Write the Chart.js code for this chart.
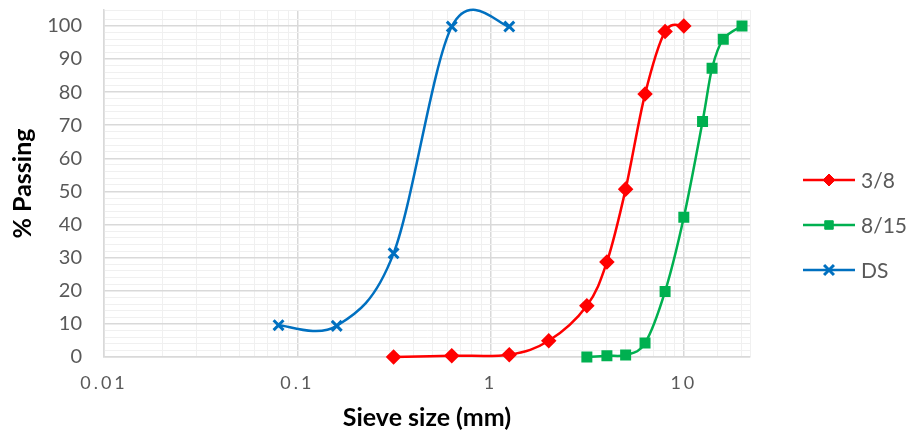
<!DOCTYPE html>
<html>
<head>
<meta charset="utf-8">
<script src="https://cdn.jsdelivr.net/npm/chart.js@4/dist/chart.umd.min.js"></script>
<style>
  html, body { margin: 0; padding: 0; background: #fff; }
  #wrap { width: 908px; height: 437px; }
</style>
</head>
<body>
<div id="wrap"><canvas id="grading"></canvas></div>
<script>
// sieve sizes (mm) and % passing
const sieve38 = [0.315, 0.63, 1.25, 2, 3.15, 4, 5, 6.3, 8, 10];
const pass38 = [0, 0.4, 0.7, 4.9, 15.5, 28.7, 50.7, 79.4, 98.3, 100];
const sieve815 = [3.15, 4, 5, 6.3, 8, 10, 12.5, 14, 16, 20];
const pass815 = [0, 0.4, 0.6, 4.2, 19.8, 42.2, 71.1, 87.2, 96, 100];
const sieveDS = [0.08, 0.16, 0.315, 0.63, 1.25];
const passDS = [9.6, 9.4, 31.3, 99.8, 99.8];
const xTickLabels = ["0.01", "0.1", "1", "10"];
const yTickLabels = [0, 10, 20, 30, 40, 50, 60, 70, 80, 90, 100];

const font = "Lato, 'Open Sans', sans-serif";

function pts(xs, ys) {
    return xs.map((x, i) => ({x: x, y: ys[i]}))
}

function isDecade(v) {
    return xTickLabels.some(l => Math.abs(parseFloat(l) - v) < 1e-9)
}

// Excel "smoothed line" is close to a Catmull-Rom spline on the pixel points,
// so replace chart.js' weighted control points with plain 1/6 ones
const excelSmooth = {
    id: "excelSmooth",
    beforeDatasetsDraw(chart) {
        chart.data.datasets.forEach((ds, i) => {
            const meta = chart.getDatasetMeta(i)
            const p = meta.data
            meta.dataset._pointsUpdated = true
            for (let k = 0; k < p.length; k++) {
                const a = p[Math.max(k - 1, 0)]
                const b = p[Math.min(k + 1, p.length - 1)]
                const dx = (b.x - a.x) / 6
                const dy = (b.y - a.y) / 6
                p[k].cp1x = p[k].x - dx
                p[k].cp1y = p[k].y - dy
                p[k].cp2x = p[k].x + dx
                p[k].cp2y = p[k].y + dy
            }
        })
    }
}

// legend drawn on the right, Excel style (line + marker + text)
const sideLegend = {
    id: "sideLegend",
    afterDraw(chart) {
        const ctx = chart.ctx
        const rows = [180, 225, 270]
        chart.data.datasets.forEach((ds, i) => {
            const y = rows[i]
            ctx.save()
            ctx.strokeStyle = ds.borderColor
            ctx.fillStyle = ds.backgroundColor
            ctx.lineWidth = 2.5
            ctx.beginPath()
            ctx.moveTo(803, y)
            ctx.lineTo(855, y)
            ctx.stroke()
            ctx.lineWidth = ds.pointBorderWidth || 1
            Chart.helpers.drawPoint(ctx, {
                pointStyle: ds.pointStyle,
                radius: ds.pointRadius,
                borderWidth: ds.pointBorderWidth || 1,
                rotation: 0
            }, 829, y)
            ctx.fillStyle = "#595959"
            ctx.font = "21px " + font
            ctx.textBaseline = "middle"
            ctx.fillText(ds.label, 861, y + 1)
            ctx.restore()
        })
    }
}

new Chart("grading", {
    type: "line",
    data: {
        datasets: [{
            label: "3/8",
            data: pts(sieve38, pass38),
            borderColor: "#FF0000",
            backgroundColor: "#FF0000",
            pointStyle: "rectRot",
            pointRadius: 6,
            borderWidth: 2.5,
            tension: 0.4,
            clip: 10
        }, {
            label: "8/15",
            data: pts(sieve815, pass815),
            borderColor: "#00B050",
            backgroundColor: "#00B050",
            pointStyle: "rect",
            pointRadius: 6,
            borderWidth: 2.5,
            tension: 0.4,
            clip: 10
        }, {
            label: "DS",
            data: pts(sieveDS, passDS),
            borderColor: "#0070C0",
            backgroundColor: "#0070C0",
            pointStyle: "crossRot",
            pointRadius: 7,
            pointBorderWidth: 3,
            borderWidth: 2.5,
            tension: 0.4,
            clip: 10
        }]
    },
    options: {
        responsive: true,
        maintainAspectRatio: false,
        animation: false,
        layout: { padding: { top: 10, right: 158, left: 0, bottom: 0 } },
        plugins: {
            legend: { display: false },
            tooltip: { enabled: false }
        },
        scales: {
            x: {
                type: "logarithmic",
                min: 0.01,
                max: 22,
                grid: {
                    color: ctx => isDecade(ctx.tick.value) ? "#D9D9D9" : "#F0F0F0",
                    lineWidth: ctx => isDecade(ctx.tick.value) ? 1.5 : 1,
                    drawTicks: false
                },
                border: { color: "#D9D9D9", width: 1.5 },
                ticks: {
                    autoSkip: false,
                    maxRotation: 0,
                    padding: 15,
                    color: "#595959",
                    font: { family: font, size: 18 },
                    callback: v => {
                        const l = xTickLabels.find(s => Math.abs(parseFloat(s) - v) < 1e-9)
                        return l === undefined ? "" : l
                    }
                },
                title: {
                    display: true,
                    text: "Sieve size (mm)",
                    color: "#000",
                    font: { family: font, size: 25, weight: "bold" },
                    padding: { top: 4 }
                },
                afterFit: s => {
                    s.height = 80
                    s.paddingLeft = 0
                    s.paddingRight = 0
                },
                afterUpdate: s => {
                    // Excel spaces the log axis digits apart
                    if (s._spaced) return
                    s._spaced = true
                    const orig = s.drawLabels
                    s.drawLabels = function (area) {
                        this.ctx.save()
                        this.ctx.letterSpacing = "3px"
                        orig.call(this, area)
                        this.ctx.restore()
                    }
                }
            },
            y: {
                min: 0,
                max: 104.8,
                grid: {
                    color: ctx => ctx.tick.value % 10 === 0 ? "#D9D9D9" : "#F0F0F0",
                    lineWidth: ctx => ctx.tick.value % 10 === 0 ? 1.5 : 1,
                    drawTicks: false
                },
                border: { color: "#D9D9D9", width: 1.5 },
                ticks: {
                    stepSize: 2,
                    autoSkip: false,
                    padding: 22,
                    color: "#595959",
                    font: { family: font, size: 20 },
                    callback: v => yTickLabels.includes(v) ? String(v) : ""
                },
                title: {
                    display: true,
                    text: "% Passing",
                    color: "#000",
                    font: { family: font, size: 25, weight: "bold" },
                    padding: { top: 8, bottom: 0 }
                },
                afterFit: s => {
                    s.width = 104
                    s.paddingTop = 0
                    s.paddingBottom = 0
                }
            }
        }
    },
    plugins: [excelSmooth, sideLegend]
});
</script>
</body>
</html>
